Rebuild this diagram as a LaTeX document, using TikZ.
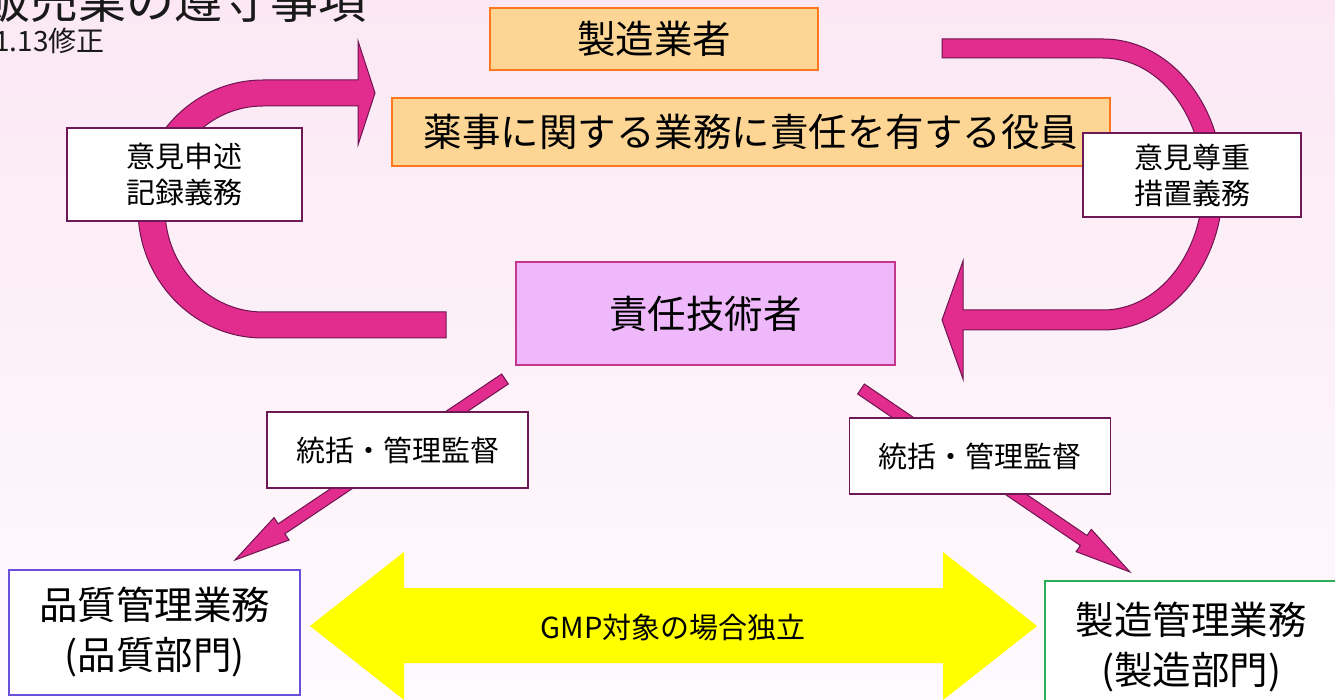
\documentclass[tikz,border=0pt]{standalone}
\usepackage{fontspec}
\setmainfont{Noto Sans CJK JP}
\usetikzlibrary{calc}
\definecolor{bgtop}{RGB}{251,232,244}
\definecolor{bgbot}{RGB}{254,250,253}
\definecolor{mag}{RGB}{226,45,142}
\definecolor{magline}{RGB}{110,20,80}
\definecolor{orfill}{RGB}{253,214,150}
\definecolor{orline}{RGB}{255,120,30}
\definecolor{lavfill}{RGB}{238,184,250}
\definecolor{lavline}{RGB}{198,55,140}
\definecolor{lblline}{RGB}{110,25,85}
\definecolor{blueline}{RGB}{106,80,216}
\definecolor{greenline}{RGB}{40,176,85}
\definecolor{yel}{RGB}{255,255,0}
\definecolor{titlecol}{RGB}{25,25,25}
\newcommand\blkarrow[2]{%
  \coordinate (hb) at ($(#2)!56pt!(#1)$);
  \draw[blk] ($(#1)!6pt!90:(#2)$) -- ($(hb)!6pt!90:(#2)$) -- ($(hb)!13.5pt!90:(#2)$)
    -- (#2) -- ($(hb)!13.5pt!-90:(#2)$) -- ($(hb)!6pt!-90:(#2)$)
    -- ($(#1)!6pt!-90:(#2)$) -- cycle;}
\begin{document}
\begin{tikzpicture}[x=1pt,y=-1pt,
  orbox/.style={draw=orline, fill=orfill, line width=1.5pt, inner sep=0pt,
    font=\fontsize{38.5}{46}\selectfont},
  lbl/.style={draw=lblline, fill=white, line width=1.3pt, inner sep=0pt,
    align=center, font=\fontsize{29}{36}\selectfont},
  dept/.style={fill=white, line width=1.5pt, inner sep=0pt, align=center,
    font=\fontsize{38.5}{50}\selectfont},
  blk/.style={fill=mag, draw=magline, line width=1pt, line join=miter}]
\useasboundingbox (0,0) rectangle (1335,700);
\clip (0,0) rectangle (1335,700);
\shade[top color=bgtop, bottom color=bgbot] (0,0) rectangle (1335,700);

% title (cut off at the top edge, as in the reference)
\node[anchor=base east, inner sep=0pt, text=titlecol,
  font=\fontsize{48}{56}\selectfont] (title) at (367,19) {販売業の遵守事項};
\node[anchor=base west, inner sep=0pt, text=titlecol,
  font=\fontsize{28}{32}\selectfont] (rev) at (-6,52) {1.13修正};

% yellow double arrow
\draw[fill=yel, draw=none] (310,626) -- (404,552) -- (404,588) -- (943,588)
  -- (943,552) -- (1037,626) -- (943,700) -- (943,663) -- (404,663)
  -- (404,700) -- cycle;
\node[inner sep=0pt, font=\fontsize{29}{34}\selectfont] (gmp) at (673,627)
  {GMP対象の場合独立};

% left curved arrow
\draw[blk] (446,338) -- (263,338)
  arc[start angle=90, end angle=270, x radius=125, y radius=129]
  -- (358,80) -- (358,41) -- (375,93) -- (358,145) -- (358,106) -- (263,106)
  arc[start angle=270, end angle=90, x radius=98, y radius=103]
  -- (446,312) -- cycle;

% right curved arrow
\draw[blk] (942,39) -- (1103,39)
  arc[start angle=-90, end angle=90, x radius=120, y radius=145.5]
  -- (963,330) -- (963,379) -- (942,320) -- (963,261) -- (963,310) -- (1103,310)
  arc[start angle=90, end angle=-90, x radius=100, y radius=126]
  -- (942,58) -- cycle;

% diagonal arrows
\coordinate (la) at (505,379);
\coordinate (lb) at (235,560);
\coordinate (ra) at (861,389);
\coordinate (rb) at (1130,572);
\blkarrow{la}{lb}
\blkarrow{ra}{rb}

% boxes
\node[orbox, minimum width=328, minimum height=62] (mfr) at (654,39) {製造業者};
\node[orbox, minimum width=718, minimum height=68] (officer) at (751,132)
  {薬事に関する業務に責任を有する役員};
\node[draw=lavline, fill=lavfill, line width=1.5pt, inner sep=0pt,
  minimum width=379, minimum height=103, font=\fontsize{38.5}{46}\selectfont]
  (tech) at (705.5,313.5) {責任技術者};

\node[lbl, minimum width=235, minimum height=93] (opin) at (184.5,174.5)
  {意見申述\\記録義務};
\node[lbl, minimum width=218, minimum height=84] (resp) at (1192,175)
  {意見尊重\\措置義務};
\node[lbl, minimum width=261, minimum height=76] (supL) at (397.5,450)
  {統括・管理監督};
\node[lbl, minimum width=261, minimum height=76] (supR) at (980,456)
  {統括・管理監督};

\node[dept, draw=blueline, minimum width=291, minimum height=125] (qa)
  at (154.5,632.5) {品質管理業務\\(品質部門)};
\node[dept, draw=greenline, minimum width=292, minimum height=133] (prod)
  at (1191,647.5) {製造管理業務\\(製造部門)};
\end{tikzpicture}
\end{document}
